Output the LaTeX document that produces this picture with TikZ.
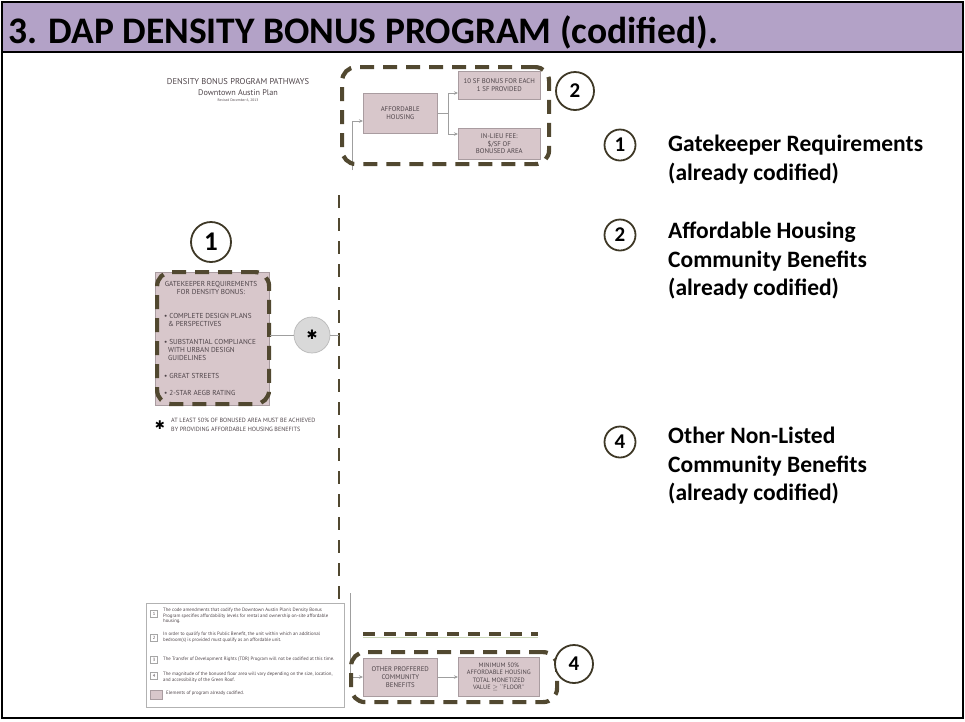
\documentclass[tikz,border=0pt]{standalone}
\usepackage{fontspec}
\setmainfont{Carlito}
\newfontfamily\dfont{PT Sans}
\newfontfamily\symfont{DejaVu Sans}
\usetikzlibrary{arrows.meta}
\definecolor{hdrpurple}{HTML}{B3A2C7}
\definecolor{olivedash}{HTML}{514830}
\definecolor{pinkfill}{HTML}{D8C7CB}
\definecolor{boxedge}{HTML}{A99CA0}
\definecolor{dtext}{HTML}{4E4449}
\definecolor{circedge}{HTML}{3E3826}
\definecolor{lgreen}{HTML}{C9D6B8}
\tikzset{
  grp/.style={draw=olivedash, line width=4.2pt, dash pattern=on 14pt off 9pt, rounded corners=14pt, rectangle, inner sep=0pt},
  pbox/.style={rectangle, fill=pinkfill, draw=boxedge, line width=0.6pt, inner sep=1pt, align=center, text=dtext, font=\dfont\fontsize{6.8}{7.8}\selectfont},
  numc/.style={circle, draw=circedge, line width=1.8pt, fill=white, inner sep=0pt, font=\bfseries\fontsize{21}{21}\selectfont},
  lab/.style={anchor=base west, inner sep=0pt, font=\bfseries\fontsize{23.5}{29}\selectfont},
  conn/.style={draw=gray!75, line width=0.7pt},
  arr/.style={conn, -{Stealth[length=4pt,width=3.5pt]}},
  dtxt/.style={inner sep=0pt, text=dtext, font=\dfont\fontsize{7.2}{8.2}\selectfont},
  ftxt/.style={anchor=west, inner sep=0pt, text=dtext, font=\dfont\fontsize{6.1}{6.5}\selectfont},
  ltxt/.style={anchor=north west, inner sep=0pt, align=left, text=dtext, font=\dfont\fontsize{4.8}{5.6}\selectfont},
  lnum/.style={rectangle, draw=gray!70, line width=0.4pt, minimum width=7pt, minimum height=7pt, inner sep=0pt, text=dtext, font=\dfont\fontsize{4.5}{5}\selectfont}
}
\begin{document}
\begin{tikzpicture}[x=1pt,y=-1pt]
\useasboundingbox (0,0) rectangle (965,721);
% header
\fill[hdrpurple] (2,2) rectangle (963,52);
\draw[black, line width=2pt] (2,52) -- (963,52);
\draw[black, line width=1.6pt] (2,2) rectangle (963,718);
\node[anchor=base west, inner sep=0pt, font=\bfseries\fontsize{37.5}{40}\selectfont] (title) at (8,43) {3. DAP DENSITY BONUS PROGRAM (codified).};

% diagram title
\node[dtxt, font=\dfont\fontsize{8.5}{9}\selectfont] (dt1) at (238,82) {DENSITY BONUS PROGRAM PATHWAYS};
\node[dtxt, font=\dfont\fontsize{8.2}{9}\selectfont] (dt2) at (238,93) {Downtown Austin Plan};
\node[dtxt, font=\dfont\fontsize{3.6}{4}\selectfont] (dt3) at (238,100) {Revised December 6, 2013};

% group 2 : affordable housing
\node[pbox, minimum width=74pt, minimum height=40pt, anchor=north west] (ah) at (363,93) {AFFORDABLE\\HOUSING};
\node[pbox, minimum width=82pt, minimum height=28pt, anchor=north west] (sf) at (458,71) {10 SF BONUS FOR EACH\\1 SF PROVIDED};
\node[pbox, minimum width=82pt, minimum height=31pt, anchor=north west] (fee) at (458,128) {IN-LIEU FEE:\\\$/SF OF\\BONUSED AREA};
\coordinate (split) at (448,113);
\draw[conn] (ah.east |- split) -- (split);
\draw[arr] (split) |- (sf.west |- 0,93);
\draw[arr] (split) |- (fee.west |- 0,134);
\coordinate (in2) at (352,170);
\draw[arr] (in2) |- (ah.west |- 0,121);
\node[grp, minimum width=207pt, minimum height=97pt, anchor=north west] (g2) at (340,65) {};
\node[numc, minimum size=38pt] (c2) at (575,91) {2};

% long dashed line
\coordinate (vd1) at (339,195);
\coordinate (vd2) at (339,602);
\draw[olivedash, line width=2.4pt, dash pattern=on 13pt off 10pt] (vd1) -- (vd2);

% group 1 : gatekeeper
\node[rectangle, fill=pinkfill, draw=boxedge, line width=0.6pt, minimum width=114pt, minimum height=133pt, anchor=north west] (gk) at (155,272) {};
\node[dtxt, align=center] (gkh) at (211,288) {GATEKEEPER REQUIREMENTS\\FOR DENSITY BONUS:};
\node[dtxt, anchor=north west, align=left] (b1) at (164,313) {\textbullet\ COMPLETE DESIGN PLANS\\\ \ \& PERSPECTIVES};
\node[dtxt, anchor=north west, align=left] (b2) at (164,339) {\textbullet\ SUBSTANTIAL COMPLIANCE\\\ \ WITH URBAN DESIGN\\\ \ GUIDELINES};
\node[dtxt, anchor=north west, align=left] (b3) at (164,373) {\textbullet\ GREAT STREETS};
\node[dtxt, anchor=north west, align=left] (b4) at (164,390) {\textbullet\ 2-STAR AEGB RATING};
\node[grp, minimum width=112pt, minimum height=132pt, anchor=north west] (g1) at (155,270) {};
\node[numc, minimum size=40pt, font=\bfseries\fontsize{27}{27}\selectfont] (c1) at (211,242) {1};
\node[circle, fill=gray!30, draw=gray!55, line width=0.7pt, minimum size=36pt, inner sep=0pt, font=\symfont\fontsize{13}{13}\selectfont] (ast) at (312,335) {✱};
\draw[conn] (gk.east |- ast) -- (ast);
\draw[conn] (ast) -- (ast -| vd1);
\node[inner sep=0pt, font=\symfont\fontsize{12}{12}\selectfont] (fa) at (160,425) {✱};
\node[ftxt] (fn1) at (171,420.5) {AT LEAST 50\% OF BONUSED AREA MUST BE ACHIEVED};
\node[ftxt] (fn2) at (171,429.5) {BY PROVIDING AFFORDABLE HOUSING BENEFITS};

% legend
\node[rectangle, draw=gray!60, line width=0.6pt, minimum width=198pt, minimum height=104pt, anchor=north west] (leg) at (146,603) {};
\node[lnum] (n1) at (154,614) {1};
\node[ltxt] (t1) at (163,608) {The code amendments that codify the Downtown Austin Plan's Density Bonus\\Program specifies affordability levels for rental and ownership on-site affordable\\housing.};
\node[lnum] (n2) at (154,638) {2};
\node[ltxt] (t2) at (163,632) {In order to qualify for this Public Benefit, the unit within which an additional\\bedroom(s) is provided must qualify as an affordable unit.};
\node[lnum] (n3) at (154,660) {3};
\node[ltxt] (t3) at (163,657) {The Transfer of Development Rights (TDR) Program will not be codified at this time.};
\node[lnum] (n4) at (154,676) {4};
\node[ltxt] (t4) at (163,672) {The magnitude of the bonused floor area will vary depending on the size, location,\\and accessibility of the Green Roof.};
\node[rectangle, fill=pinkfill, draw=boxedge, line width=0.4pt, minimum width=12pt, minimum height=9pt, inner sep=0pt] (n5) at (156,695) {};
\node[ltxt] (t5) at (166,691) {Elements of program already codified.};

% partial dashed line above group 4
\coordinate (pd1) at (363,634);
\coordinate (pd2) at (538,634);
\draw[lgreen, line width=0.8pt] ([yshift=-3pt]pd1) -- ([yshift=-3pt]pd2);
\draw[olivedash, line width=3.2pt, dash pattern=on 12pt off 9pt] (pd1) -- (pd2);

% group 4
\node[pbox, minimum width=74pt, minimum height=38pt, anchor=north west] (op) at (363,658) {OTHER PROFFERED\\COMMUNITY\\BENEFITS};
\node[pbox, minimum width=81pt, minimum height=39pt, anchor=north west, font=\dfont\fontsize{6.3}{7.6}\selectfont] (mn) at (458,657) {MINIMUM 50\%\\AFFORDABLE HOUSING\\TOTAL MONETIZED\\VALUE $\geq$ ``FLOOR''};
\coordinate (in4) at (350,593);
\draw[arr] (in4) |- (op.west |- 0,677);
\draw[arr] (op.east |- 0,677) -- (mn.west |- 0,677);
\node[grp, minimum width=206pt, minimum height=50pt, anchor=north west] (g4) at (349,650) {};
\node[numc, minimum size=38pt] (c4) at (574,664) {4};

% right side key
\node[numc, minimum size=31pt, font=\bfseries\fontsize{21}{21}\selectfont] (k1) at (620,145) {1};
\node[lab] (k1a) at (668,151) {Gatekeeper Requirements};
\node[lab] (k1b) at (668,180) {(already codified)};
\node[numc, minimum size=31pt, font=\bfseries\fontsize{21}{21}\selectfont] (k2) at (620,235) {2};
\node[lab] (k2a) at (668,238) {Affordable Housing};
\node[lab] (k2b) at (668,267) {Community Benefits};
\node[lab] (k2c) at (668,295) {(already codified)};
\node[numc, minimum size=31pt, font=\bfseries\fontsize{21}{21}\selectfont] (k4) at (620,442) {4};
\node[lab] (k4a) at (668,443) {Other Non-Listed};
\node[lab] (k4b) at (668,472) {Community Benefits};
\node[lab] (k4c) at (668,500) {(already codified)};
\end{tikzpicture}
\end{document}
